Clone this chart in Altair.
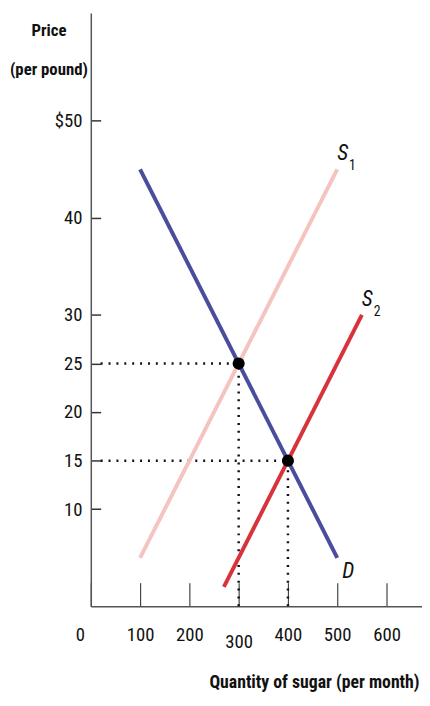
import altair as alt
import pandas as pd

FONT = "Roboto Condensed, Noto Sans ExtraCondensed, Noto Sans Condensed, Liberation Sans Narrow, DejaVu Sans Condensed, sans-serif"

# Curves (quantity, price) endpoints
demand_q = [100, 500]
demand_p = [45, 5]
s1_q = [100, 500]
s1_p = [5, 45]
s2_q = [270, 550]
s2_p = [2, 30]

# Equilibria
eq_q = [300, 400]
eq_p = [25, 15]

x_ticks = [0, 100, 200, 300, 400, 500, 600]
y_ticks = [10, 15, 20, 25, 30, 40, 50]

series_names = ["D", "S1", "S2"]
series_colors = ["#4a4d9c", "#f5c4c0", "#d8323d"]

rows = []
for name, qs, ps in [("D", demand_q, demand_p), ("S1", s1_q, s1_p), ("S2", s2_q, s2_p)]:
    for q, p in zip(qs, ps):
        rows.append({"series": name, "q": q, "p": p})
lines_df = pd.DataFrame(rows)

eq_df = pd.DataFrame({"q": eq_q, "p": eq_p, "q0": [20] * len(eq_q), "p0": [0] * len(eq_q)})

x_scale = alt.Scale(domain=[0, 672], nice=False, zero=False)
y_scale = alt.Scale(domain=[0, 61.1], nice=False, zero=False)

x_axis = alt.Axis(
    values=x_ticks,
    tickSize={"expr": "-24"},
    tickColor="#444",
    tickWidth=1.2,
    domainColor="#555",
    domainWidth=1.5,
    grid=False,
    labelFont=FONT,
    labelFontSize=19,
    labelColor="#111",
    labelFlush=False,
    labelPadding={"condition": {"test": "datum.value == 300", "value": 51}, "value": 44},
    labelOffset={"condition": {"test": "datum.value == 0", "value": -11}, "value": 0},
    title="Quantity of sugar (per month)",
    titleFont=FONT,
    titleFontSize=18,
    titleFontWeight="bold",
    titleColor="#111",
    titleAnchor="end",
    titleAlign="right",
    titleBaseline="alphabetic",
    titleX=333,
    titleY=82,
)

y_axis = alt.Axis(
    values=y_ticks,
    tickSize={"expr": "-10"},
    tickColor="#333",
    tickWidth=1.5,
    domainColor="#555",
    domainWidth=1.5,
    grid=False,
    labelFont=FONT,
    labelFontSize=19,
    labelColor="#111",
    labelPadding=19,
    labelExpr="datum.value == 50 ? '$50' : datum.label",
    title=["Price", "(per pound)"],
    titleFont=FONT,
    titleFontSize=17,
    titleFontWeight="bold",
    titleColor="#111",
    titleAngle=0,
    titleAlign="center",
    titleBaseline="alphabetic",
    titleLineHeight=39,
    titleX=-43,
    titleY=23,
)

base_x = alt.X("q:Q", scale=x_scale, axis=x_axis)
base_y = alt.Y("p:Q", scale=y_scale, axis=y_axis)

h_dots = alt.Chart(eq_df).mark_rule(color="#111", strokeWidth=2.5, strokeDash=[2, 6]).encode(
    x=alt.X("q0:Q", scale=x_scale, axis=x_axis), x2="q:Q",
    y=alt.Y("p:Q", scale=y_scale, axis=y_axis),
)
v_dots = alt.Chart(eq_df).mark_rule(color="#111", strokeWidth=2.5, strokeDash=[2, 6]).encode(
    x=alt.X("q:Q", scale=x_scale, axis=x_axis),
    y=alt.Y("p0:Q", scale=y_scale, axis=y_axis), y2="p:Q",
)

lines = alt.Chart(lines_df).mark_line(strokeWidth=4).encode(
    x=base_x,
    y=base_y,
    color=alt.Color("series:N", scale=alt.Scale(domain=series_names, range=series_colors), legend=None),
    detail="series:N",
)

points = alt.Chart(eq_df).mark_point(filled=True, size=150, color="#000", opacity=1, shape="circle").encode(
    x=base_x, y=base_y
)

# Curve labels
lab_df = pd.DataFrame({
    "q": [s1_q[-1], s2_q[-1]],
    "p": [s1_p[-1], s2_p[-1]],
    "s": ["S", "S"],
    "sub": ["1", "2"],
})
s_text = alt.Chart(lab_df).mark_text(font=FONT, fontSize=22, fontStyle="italic", align="left",
                                     baseline="alphabetic", dx=0, dy=-9, color="#111").encode(
    x=base_x, y=base_y, text="s:N")
sub_text = alt.Chart(lab_df).mark_text(font=FONT, fontSize=14, align="left",
                                       baseline="alphabetic", dx=12, dy=1, color="#111").encode(
    x=base_x, y=base_y, text="sub:N")
d_df = pd.DataFrame({"q": [demand_q[-1]], "p": [demand_p[-1]], "t": ["D"]})
d_text = alt.Chart(d_df).mark_text(font=FONT, fontSize=22, fontStyle="italic", align="left",
                                   baseline="alphabetic", dx=5, dy=21, color="#111").encode(
    x=base_x, y=base_y, text="t:N")

chart = alt.layer(h_dots, v_dots, lines, points, s_text, sub_text, d_text).properties(
    width=336, height=602,
    autosize=alt.AutoSizeParams(type="none"),
    padding={"left": 84, "top": 0, "right": 0, "bottom": 88},
).configure_view(stroke=None).configure_axis(domainCap="butt")

chart.save("out.html", embed_options={"renderer": "svg", "actions": False})
